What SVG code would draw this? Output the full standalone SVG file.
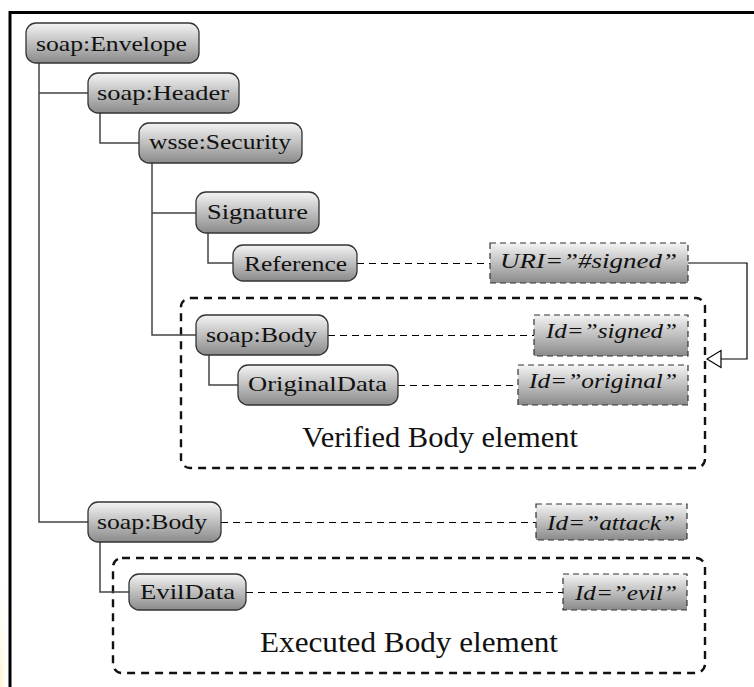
<svg xmlns="http://www.w3.org/2000/svg" width="754" height="687" viewBox="0 0 754 687">
  <defs>
    <linearGradient id="shade" x1="0" y1="0" x2="0" y2="1">
      <stop offset="0" stop-color="#f4f4f4"/>
      <stop offset="1" stop-color="#8a8a8a"/>
    </linearGradient>
    <radialGradient id="glow" cx="0" cy="1" r="1">
      <stop offset="0" stop-color="#fff3c8"/>
      <stop offset="1" stop-color="#ffffff" stop-opacity="0"/>
    </radialGradient>
    <marker id="open-tri" viewBox="0 0 16 20" refX="15" refY="10" markerWidth="16" markerHeight="20" markerUnits="userSpaceOnUse" orient="auto">
      <path d="M15,10 L1,1.5 L1,18.5 Z" fill="#fff" stroke="#000" stroke-width="1.2"/>
    </marker>
    <style>
      .node rect { fill: url(#shade); stroke: #333; stroke-width: 1.3; }
      .attr rect { fill: url(#shade); stroke: #333; stroke-width: 1.2; stroke-dasharray: 6 4; }
      text { fill: #111; }
      .tree { fill: none; stroke: #444; stroke-width: 1.5; }
      .link { fill: none; stroke: #000; stroke-width: 1.1; stroke-dasharray: 7 5; }
      .group { fill: none; stroke: #111; stroke-width: 2.4; stroke-dasharray: 8 6; }
    </style>
  </defs>

  <!-- page background and frame -->
  <rect x="0" y="0" width="754" height="687" fill="#fff"/>
  <rect x="0" y="560" width="9" height="127" fill="url(#glow)"/>
  <path d="M10,687 V12.5 H754" fill="none" stroke="#000" stroke-width="3"/>

  <g font-family="'Liberation Serif', 'Times New Roman', 'DejaVu Serif', serif">
  <!-- dashed regions -->
  <g id="verified-region">
    <rect class="group" x="181" y="298" width="524" height="170" rx="9"/>
    <text font-size="29" x="302" y="447" textLength="276" lengthAdjust="spacingAndGlyphs">Verified Body element</text>
  </g>
  <g id="executed-region">
    <rect class="group" x="113" y="558" width="592" height="115" rx="9"/>
    <text font-size="29" x="260" y="652" textLength="298" lengthAdjust="spacingAndGlyphs">Executed Body element</text>
  </g>

  <!-- connectors -->
  <g id="connectors">
    <path class="tree" d="M39,63 V522 H88 M39,93 H88"/>
    <path class="tree" d="M100,113 V143 H139"/>
    <path class="tree" d="M152,163 V335 H196 M152,213 H196"/>
    <path class="tree" d="M208,233 V263 H233"/>
    <path class="tree" d="M209,355 V385 H238"/>
    <path class="tree" d="M100,542 V592 H129"/>
    <path class="link" d="M357,263.5 H490"/>
    <path class="link" d="M328,335.5 H534"/>
    <path class="link" d="M398,385.5 H518"/>
    <path class="link" d="M221,522.5 H536"/>
    <path class="link" d="M246,592.5 H563"/>
    <path d="M688,263 H747 V359 H707" fill="none" stroke="#000" stroke-width="1.2" marker-end="url(#open-tri)"/>
  </g>

  <!-- element nodes -->
  <g class="node" font-size="21">
    <g id="envelope">
      <rect x="26" y="23" width="173" height="40" rx="10"/>
      <text x="36" y="51" textLength="151" lengthAdjust="spacingAndGlyphs">soap:Envelope</text>
    </g>
    <g id="header">
      <rect x="88" y="73" width="151" height="40" rx="10"/>
      <text x="97" y="100" textLength="132" lengthAdjust="spacingAndGlyphs">soap:Header</text>
    </g>
    <g id="security">
      <rect x="139" y="123" width="163" height="40" rx="10"/>
      <text x="149" y="149" textLength="142" lengthAdjust="spacingAndGlyphs">wsse:Security</text>
    </g>
    <g id="signature">
      <rect x="196" y="192" width="123" height="41" rx="10"/>
      <text x="207" y="219" textLength="101" lengthAdjust="spacingAndGlyphs">Signature</text>
    </g>
    <g id="reference">
      <rect x="233" y="245" width="124" height="36" rx="10"/>
      <text x="244" y="271" textLength="103" lengthAdjust="spacingAndGlyphs">Reference</text>
    </g>
    <g id="body-signed">
      <rect x="196" y="315" width="132" height="40" rx="10"/>
      <text x="206" y="342" textLength="111" lengthAdjust="spacingAndGlyphs">soap:Body</text>
    </g>
    <g id="original-data">
      <rect x="238" y="365" width="160" height="40" rx="10"/>
      <text x="248" y="391" textLength="139" lengthAdjust="spacingAndGlyphs">OriginalData</text>
    </g>
    <g id="body-attack">
      <rect x="88" y="502" width="133" height="40" rx="10"/>
      <text x="97" y="529" textLength="110" lengthAdjust="spacingAndGlyphs">soap:Body</text>
    </g>
    <g id="evil-data">
      <rect x="129" y="574" width="117" height="36" rx="10"/>
      <text x="140" y="599" textLength="95" lengthAdjust="spacingAndGlyphs">EvilData</text>
    </g>
  </g>

  <!-- attribute boxes -->
  <g class="attr" font-size="21" font-style="italic">
    <g id="uri-signed">
      <rect x="490" y="243" width="198" height="40"/>
      <text x="500" y="268" textLength="177" lengthAdjust="spacingAndGlyphs">URI=”#signed”</text>
    </g>
    <g id="id-signed">
      <rect x="534" y="315" width="154" height="41"/>
      <text x="546" y="338" textLength="131" lengthAdjust="spacingAndGlyphs">Id=”signed”</text>
    </g>
    <g id="id-original">
      <rect x="518" y="365" width="170" height="40"/>
      <text x="529" y="388" textLength="148" lengthAdjust="spacingAndGlyphs">Id=”original”</text>
    </g>
    <g id="id-attack">
      <rect x="536" y="504" width="151" height="36"/>
      <text x="547" y="530" textLength="128" lengthAdjust="spacingAndGlyphs">Id=”attack”</text>
    </g>
    <g id="id-evil">
      <rect x="563" y="574" width="124" height="36"/>
      <text x="575" y="600" textLength="102" lengthAdjust="spacingAndGlyphs">Id=”evil”</text>
    </g>
  </g>
  </g>
</svg>
